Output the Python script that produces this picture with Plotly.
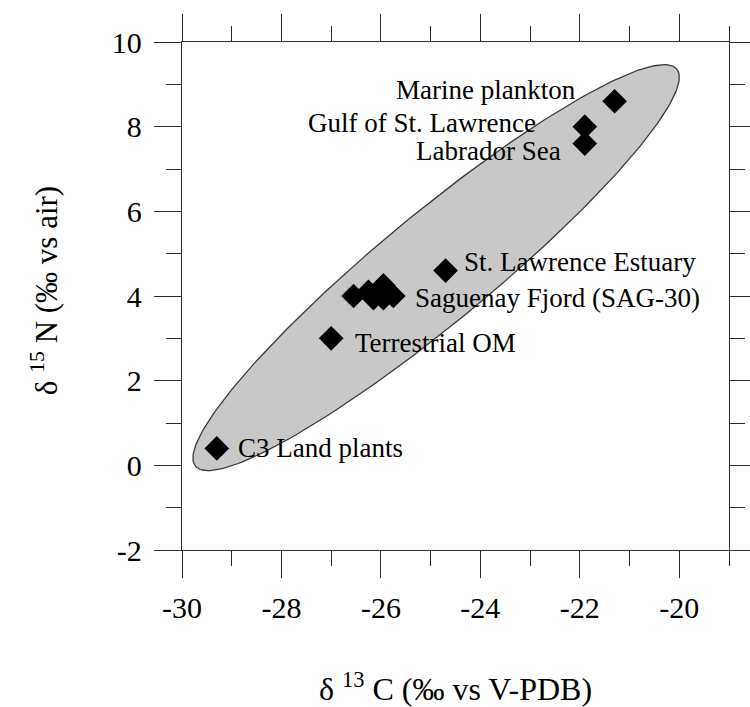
import numpy as np
import plotly.graph_objects as go

# Data (delta 13C, delta 15N)
c13 = [-29.3, -27.0, -26.55, -26.25, -26.15, -25.95, -25.95, -25.75, -24.7, -21.9, -21.9, -21.3]
n15 = [0.4, 3.0, 4.0, 4.1, 3.95, 4.25, 3.95, 4.0, 4.6, 7.6, 8.0, 8.6]

# labels: (text, index of point, side, xshift, yshift)
label_text = ["C3 Land plants", "Terrestrial OM", "Saguenay Fjord (SAG-30)", "St. Lawrence Estuary",
              "Labrador Sea", "Gulf of St. Lawrence", "Marine plankton"]
label_point = [0, 1, 7, 8, 9, 10, 11]
label_side = ["left", "left", "left", "left", "right", "right", "right"]
label_dx = [19, 22, 20, 16, -22, -47, -37]
label_dy = [0, -5, -2, 9, -7, 4, 11]

x_ticks = [-30, -28, -26, -24, -22, -20]
y_ticks = [-2, 0, 2, 4, 6, 8, 10]

# ellipse (data units): centre, semi-axis vectors
ell_center = (-24.89, 4.67)
ell_major = (4.84, 4.69)
ell_minor = (0.70, -1.00)

t = np.linspace(0, 2 * np.pi, 241)
ex = ell_center[0] + ell_major[0] * np.cos(t) + ell_minor[0] * np.sin(t)
ey = ell_center[1] + ell_major[1] * np.cos(t) + ell_minor[1] * np.sin(t)

FONT = "Liberation Serif"
AX = "#2a2a2a"
TXT = "#000000"

fig = go.Figure()
fig.add_trace(go.Scatter(x=ex, y=ey, mode="lines", fill="toself",
                         fillcolor="#c8c8c8", line=dict(color="#3a3a3a", width=1.3),
                         hoverinfo="skip", showlegend=False))
fig.add_trace(go.Scatter(x=c13, y=n15, mode="markers",
                         marker=dict(symbol="diamond", size=19, color="black"),
                         showlegend=False))

for txt, i, side, dx, dy in zip(label_text, label_point, label_side, label_dx, label_dy):
    fig.add_annotation(x=c13[i], y=n15[i], xref="x", yref="y", text=txt, showarrow=False,
                       xanchor=side, yanchor="middle", xshift=dx, yshift=dy,
                       font=dict(family=FONT, size=27, color=TXT))

axis_common = dict(showgrid=False, zeroline=False, showline=True, linecolor=AX, linewidth=1.4,
                   mirror="allticks", ticks="outside", ticklen=27, tickwidth=1.4, tickcolor=AX,
                   automargin=False,
                   tickfont=dict(family=FONT, size=30, color=TXT))

fig.update_xaxes(range=[-30, -19], tickvals=x_ticks, ticktext=[str(v) for v in x_ticks],
                 minor=dict(dtick=1, tick0=-30, ticks="outside", ticklen=15, tickwidth=1.4, tickcolor=AX),
                 ticklabelstandoff=4, **axis_common)
fig.update_yaxes(range=[-2, 10], tickvals=y_ticks, ticktext=[str(v) for v in y_ticks],
                 minor=dict(dtick=1, tick0=-2, ticks="outside", ticklen=15, tickwidth=1.4, tickcolor=AX),
                 ticklabelstandoff=6, **axis_common)

fig.add_annotation(xref="paper", yref="paper", x=0.5, y=-0.27, yanchor="middle",
                   text="δ <sup>13</sup> C (‰ vs V-PDB)", showarrow=False,
                   font=dict(family=FONT, size=32, color=TXT))
fig.add_annotation(xref="paper", yref="paper", x=-0.25, y=0.51, xanchor="center", textangle=-90,
                   text="δ <sup>15</sup> N (‰ vs air)", showarrow=False,
                   font=dict(family=FONT, size=31, color=TXT))

fig.update_layout(width=750, height=707, margin=dict(l=182, r=21, t=42, b=157, autoexpand=False),
                  paper_bgcolor="white", plot_bgcolor="white")
fig.write_html("out.html")
